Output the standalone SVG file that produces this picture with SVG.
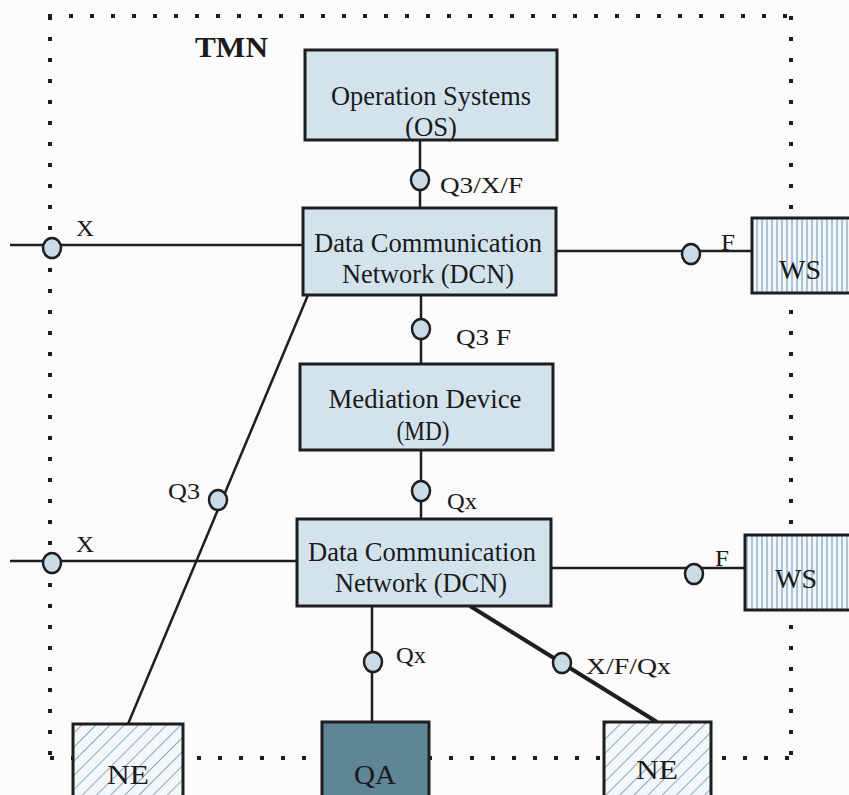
<svg xmlns="http://www.w3.org/2000/svg" width="849" height="795" viewBox="0 0 849 795">
<defs>
<pattern id="hatchNE" patternUnits="userSpaceOnUse" width="10" height="10" patternTransform="rotate(45)">
<rect width="10" height="10" fill="#f4f7f9"/>
<line x1="0" y1="0" x2="0" y2="10" stroke="#6f93b2" stroke-width="1.6"/>
</pattern>
<pattern id="hatchWS" patternUnits="userSpaceOnUse" width="5" height="10">
<rect width="5" height="10" fill="#f2f6f9"/>
<line x1="2" y1="0" x2="2" y2="10" stroke="#86abc8" stroke-width="1.3"/>
</pattern>
<style>
.box{fill:#d3e3ed;stroke:#1e1e1e;stroke-width:3}
.ne{fill:url(#hatchNE);stroke:#1e1e1e;stroke-width:3}
.ws{fill:url(#hatchWS);stroke:#1e1e1e;stroke-width:3}
.qa{fill:#5f8696;stroke:#1e1e1e;stroke-width:3}
.t{font-family:"Liberation Serif",serif;font-size:28px;fill:#1a1a1a;text-anchor:middle}
.lbl{font-family:"Liberation Serif",serif;font-size:24px;fill:#1a1a1a}
.ln{stroke:#1e1e1e;stroke-width:2.5;fill:none}
.thick{stroke:#1e1e1e;stroke-width:4;fill:none}
.if{fill:#c9dbe7;stroke:#1e1e1e;stroke-width:2.5}
.dot{stroke:#1e1e1e;stroke-width:4;stroke-dasharray:4 17;fill:none}
.tmn{font-family:"Liberation Serif",serif;font-size:30px;font-weight:bold;fill:#1a1a1a}
</style>
</defs>
<rect width="849" height="795" fill="#fbfbfb"/>
<g id="boundary">
<line class="dot" x1="48" y1="16" x2="792" y2="16"/>
<line class="dot" x1="50" y1="16" x2="50" y2="760"/>
<line class="dot" x1="791" y1="16" x2="791" y2="760"/>
<line class="dot" x1="50" y1="758" x2="792" y2="758"/>
<text class="tmn" x="195" y="57" textLength="73" lengthAdjust="spacingAndGlyphs">TMN</text>
</g>
<g id="connectors">
<line class="ln" x1="420" y1="140" x2="420" y2="208"/>
<line class="ln" x1="10" y1="245" x2="303" y2="245"/>
<line class="ln" x1="556" y1="251" x2="752" y2="251"/>
<line class="ln" x1="421" y1="295" x2="421" y2="364"/>
<line class="ln" x1="421" y1="450" x2="421" y2="519"/>
<line class="ln" x1="10" y1="561" x2="297" y2="561"/>
<line class="ln" x1="551" y1="568" x2="745" y2="568"/>
<line class="ln" x1="308" y1="295" x2="128" y2="724"/>
<line class="ln" x1="372" y1="606" x2="372" y2="722"/>
<line class="thick" x1="470" y1="606" x2="657" y2="722"/>
<ellipse class="if" cx="420" cy="180" rx="9" ry="10"/>
<ellipse class="if" cx="52" cy="248" rx="9" ry="10"/>
<ellipse class="if" cx="691" cy="254" rx="9" ry="10"/>
<ellipse class="if" cx="421" cy="329" rx="9" ry="10"/>
<ellipse class="if" cx="421" cy="491" rx="9" ry="10"/>
<ellipse class="if" cx="52" cy="563" rx="9" ry="10"/>
<ellipse class="if" cx="694" cy="574" rx="9" ry="10"/>
<ellipse class="if" cx="218" cy="500" rx="9" ry="10"/>
<ellipse class="if" cx="373" cy="662" rx="9" ry="10"/>
<ellipse class="if" cx="562" cy="663" rx="9" ry="10"/>
<text class="lbl" x="440" y="193" textLength="83" lengthAdjust="spacingAndGlyphs">Q3/X/F</text>
<text class="lbl" x="76" y="236" textLength="18" lengthAdjust="spacingAndGlyphs">X</text>
<text class="lbl" x="721" y="250" textLength="14" lengthAdjust="spacingAndGlyphs">F</text>
<text class="lbl" x="456" y="345" textLength="55" lengthAdjust="spacingAndGlyphs">Q3 F</text>
<text class="lbl" x="447" y="509" textLength="30" lengthAdjust="spacingAndGlyphs">Qx</text>
<text class="lbl" x="76" y="552" textLength="18" lengthAdjust="spacingAndGlyphs">X</text>
<text class="lbl" x="715" y="566" textLength="14" lengthAdjust="spacingAndGlyphs">F</text>
<text class="lbl" x="168" y="499" textLength="32" lengthAdjust="spacingAndGlyphs">Q3</text>
<text class="lbl" x="396" y="663" textLength="30" lengthAdjust="spacingAndGlyphs">Qx</text>
<text class="lbl" x="586" y="674" textLength="85" lengthAdjust="spacingAndGlyphs">X/F/Qx</text>
</g>
<g id="os">
<rect class="box" x="305" y="50" width="252" height="90"/>
<text class="t" x="431" y="105" textLength="200" lengthAdjust="spacingAndGlyphs">Operation Systems</text>
<text class="t" x="431" y="136" textLength="52" lengthAdjust="spacingAndGlyphs">(OS)</text>
</g>
<g id="dcn1">
<rect class="box" x="303" y="208" width="253" height="87"/>
<text class="t" x="428" y="252" textLength="228" lengthAdjust="spacingAndGlyphs">Data Communication</text>
<text class="t" x="428" y="283" textLength="172" lengthAdjust="spacingAndGlyphs">Network (DCN)</text>
</g>
<g id="md">
<rect class="box" x="300" y="364" width="253" height="86"/>
<text class="t" x="425" y="408" textLength="193" lengthAdjust="spacingAndGlyphs">Mediation Device</text>
<text class="t" x="423" y="440" textLength="53" lengthAdjust="spacingAndGlyphs">(MD)</text>
</g>
<g id="dcn2">
<rect class="box" x="297" y="519" width="254" height="87"/>
<text class="t" x="422" y="561" textLength="228" lengthAdjust="spacingAndGlyphs">Data Communication</text>
<text class="t" x="421" y="592" textLength="172" lengthAdjust="spacingAndGlyphs">Network (DCN)</text>
</g>
<g id="ws1">
<rect class="ws" x="752" y="218" width="100" height="75"/>
<text class="t" x="800" y="279" textLength="42" lengthAdjust="spacingAndGlyphs">WS</text>
</g>
<g id="ws2">
<rect class="ws" x="745" y="535" width="107" height="75"/>
<text class="t" x="796" y="588" textLength="42" lengthAdjust="spacingAndGlyphs">WS</text>
</g>
<g id="ne1">
<rect class="ne" x="73" y="724" width="110" height="75"/>
<text class="t" x="128" y="784" textLength="42" lengthAdjust="spacingAndGlyphs">NE</text>
</g>
<g id="qa">
<rect class="qa" x="322" y="722" width="107" height="77"/>
<text class="t" x="375" y="784" textLength="42" lengthAdjust="spacingAndGlyphs">QA</text>
</g>
<g id="ne2">
<rect class="ne" x="604" y="722" width="107" height="77"/>
<text class="t" x="657" y="779" textLength="42" lengthAdjust="spacingAndGlyphs">NE</text>
</g>
</svg>
